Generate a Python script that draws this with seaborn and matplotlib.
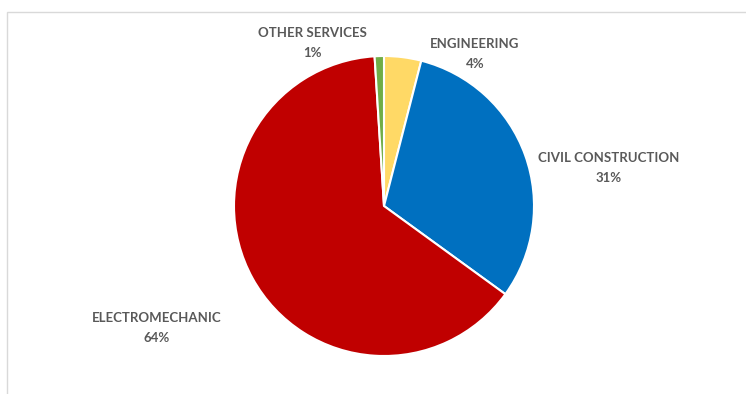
import matplotlib
matplotlib.use("Agg")
import matplotlib.pyplot as plt
import seaborn as sns
from matplotlib.patches import Rectangle

sns.set_theme(style="white")
plt.rcParams['font.family'] = ['Lato', 'DejaVu Sans']

categories = ["ENGINEERING", "CIVIL CONSTRUCTION", "ELECTROMECHANIC", "OTHER SERVICES"]
values = [4, 31, 64, 1]
colors = ["#FFD966", "#0070C0", "#C00000", "#70AD47"]

W, H = 746, 394
fig = plt.figure(figsize=(W / 100, H / 100), dpi=100)
fig.patch.set_facecolor("white")
ax = fig.add_axes([0, 0, 1, 1])

cx, cy, r = 384, H - 206, 150
ax.pie(values, colors=colors, startangle=90, counterclock=False,
       center=(cx, cy), radius=r, frame=True,
       wedgeprops=dict(edgecolor="white", linewidth=1.5))
ax.set_xlim(0, W)
ax.set_ylim(0, H)
ax.set_aspect("auto")
ax.axis("off")

# light chart-area frame
ax.add_patch(Rectangle((7, -10), W + 20, H - 12 + 10, fill=False,
                       edgecolor="#d9d9d9", linewidth=1.0))

label_pos = {
    "OTHER SERVICES": (312, 33),
    "ENGINEERING": (475, 44),
    "CIVIL CONSTRUCTION": (609, 158),
    "ELECTROMECHANIC": (157, 318),
}
for cat, val in zip(categories, values):
    x, y = label_pos[cat]
    ax.text(x, H - y, cat, ha="center", va="center", fontsize=9.5,
            fontweight="bold", color="#595959")
    ax.text(x, H - y - 20, f"{val}%", ha="center", va="center", fontsize=9.5,
            fontweight="bold", color="#595959")

fig.savefig("out.png", dpi=100, facecolor="white")
